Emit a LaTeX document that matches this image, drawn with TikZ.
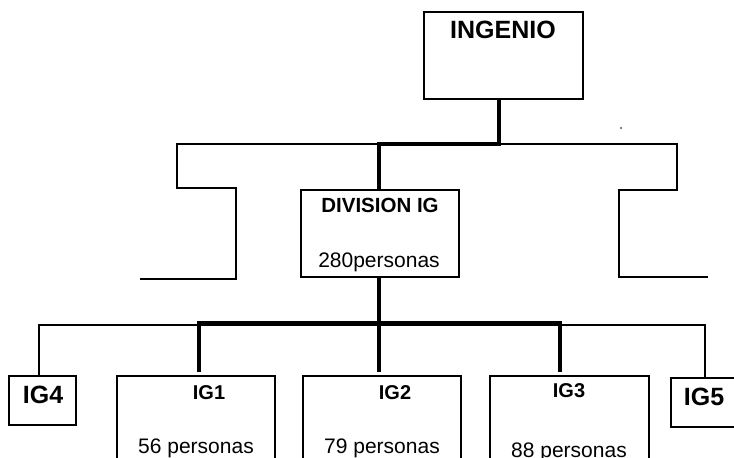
\documentclass[tikz,border=0pt]{standalone}
\usepackage{fontspec}
\setmainfont{Liberation Sans}
\begin{document}
\begin{tikzpicture}[x=1pt,y=-1pt,
  box/.style={draw,line width=1.3pt,fill=white,inner sep=0pt},
  thin/.style={line width=1.2pt,line cap=rect},
  heavy/.style={line width=4.2pt,line cap=rect},
  bigbold/.style={font=\fontsize{25}{25}\selectfont\bfseries,inner sep=0pt,anchor=base},
  midbold/.style={font=\fontsize{20}{20}\selectfont\bfseries,inner sep=0pt,anchor=base},
  body/.style={font=\fontsize{21}{21}\selectfont,inner sep=0pt,anchor=base}]
\useasboundingbox (0,0) rectangle (734,458);
\clip (0,0) rectangle (734,458);
% boxes
\node[box,minimum width=159pt,minimum height=87pt] (ing) at (503.5,55.5) {};
\node[box,minimum width=158pt,minimum height=87pt] (div) at (380,233.5) {};
\node[box,minimum width=67pt,minimum height=49pt] (ig4) at (42.5,400.5) {};
\node[box,minimum width=158pt,minimum height=110pt] (ig1) at (196,431) {};
\node[box,minimum width=158pt,minimum height=110pt] (ig2) at (382,431) {};
\node[box,minimum width=159pt,minimum height=110pt] (ig3) at (569.5,431) {};
\node[box,minimum width=90pt,minimum height=49pt] (ig5) at (716,402.5) {};
% texts
\node[bigbold] (tIng) at (503,38) {INGENIO};
\node[body,font=\fontsize{20.5}{20.5}\selectfont\bfseries] (tDiv) at (380,212) {DIVISION IG};
\node[body] (tDivP) at (379,267) {280personas};
\node[bigbold] (tIg4) at (43,403) {IG4};
\node[bigbold] (tIg5) at (704,405) {IG5};
\node[midbold] (tIg1) at (209,399) {IG1};
\node[midbold] (tIg2) at (395,399) {IG2};
\node[midbold] (tIg3) at (569,397) {IG3};
\node[body] (tIg1p) at (196,453) {56 personas};
\node[body] (tIg2p) at (382,453) {79 personas};
\node[body] (tIg3p) at (569,457) {88 personas};
% junction coordinates
\coordinate (a1) at (499,144);
\coordinate (a2) at (379,144);
\coordinate (tl) at (177,144);
\coordinate (tr) at (677,144);
\coordinate (l1) at (177,188);
\coordinate (l2) at (236,188);
\coordinate (l3) at (236,279);
\coordinate (l4) at (140,279);
\coordinate (r1) at (677,190);
\coordinate (r2) at (619,190);
\coordinate (r3) at (619,277);
\coordinate (r4) at (708,277);
\coordinate (b0) at (379,324);
\coordinate (bl) at (39,325);
\coordinate (br) at (705,325);
\coordinate (h1) at (199,323.5);
\coordinate (h3) at (560,323.5);
\coordinate (e1) at (199,372);
\coordinate (e2) at (379,372);
\coordinate (e3) at (560,372);
\coordinate (dot) at (621,128);
% thin connectors
\draw[thin] (tl) -- (tr);
\draw[thin,line cap=butt] (tl) -- (l1) -- (l2) -- (l3) -- (l4);
\draw[thin,line cap=butt] (tr) -- (r1) -- (r2) -- (r3) -- (r4);
\draw[thin] (bl) -- (br);
\draw[thin,line cap=butt] (bl) -- (ig4.north -| bl);
\draw[thin,line cap=butt] (br) -- (ig5.north -| br);
% thick connectors
\draw[heavy,line cap=butt] (ing.south -| a1) -- (a1);
\draw[heavy] (a1) -- (a2);
\draw[heavy,line cap=butt] (a2) -- (div.north -| a2);
\draw[heavy,line cap=butt] (div.south -| b0) -- (b0);
\draw[heavy] (h1) -- (h3);
\draw[heavy,line cap=butt] (h1) -- (e1);
\draw[heavy,line cap=butt] (b0) -- (e2);
\draw[heavy,line cap=butt] (h3) -- (e3);
\fill (dot) circle (0.9pt);
\end{tikzpicture}
\end{document}
